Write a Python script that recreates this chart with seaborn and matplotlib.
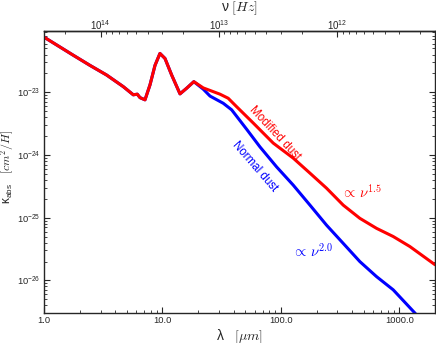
import numpy as np
import pandas as pd
import matplotlib
matplotlib.use("Agg")
import matplotlib.pyplot as plt
import matplotlib.ticker as mticker
import seaborn as sns

# wavelength [micron] and log10 kappa
lam_mod = [1.0, 1.77, 2.44, 3.38, 4.67, 5.67, 6.13, 6.46, 7.12, 7.85, 8.65, 9.52,
           10.5, 11.96, 14.06, 16.0, 18.4, 22.1, 30.6, 35.9, 42.3, 58.4, 86.1,
           127, 176, 243, 336, 464, 642, 887, 1227, 2000]
logk_mod = [-22.12, -22.41, -22.57, -22.725, -22.91, -23.04, -23.03, -23.085, -23.12,
            -22.88, -22.57, -22.38, -22.46, -22.725, -23.025, -22.935, -22.83, -22.93,
            -23.03, -23.095, -23.23, -23.49, -23.81, -24.05, -24.29, -24.53, -24.80,
            -25.01, -25.17, -25.30, -25.46, -25.75]

lam_norm = [1.0, 1.77, 2.44, 3.38, 4.67, 5.67, 6.13, 6.46, 7.12, 7.85, 8.65, 9.52,
            10.5, 11.96, 14.06, 16.0, 18.4, 22.1, 25.2, 32.6, 38.4, 51.4, 66.5, 92,
            127, 176, 243, 336, 464, 642, 887, 1352, 1500]
logk_norm = [-22.12, -22.41, -22.57, -22.725, -22.91, -23.04, -23.03, -23.085, -23.12,
             -22.88, -22.57, -22.38, -22.46, -22.725, -23.025, -22.935, -22.83, -22.95,
             -23.06, -23.175, -23.28, -23.59, -23.87, -24.19, -24.48, -24.80, -25.12,
             -25.41, -25.70, -25.94, -26.15, -26.52, -26.62]

c_micron = 2.998e14  # speed of light in micron/s

sns.set_style("ticks")
plt.rcParams["font.family"] = ["Liberation Sans", "DejaVu Sans"]
plt.rcParams["mathtext.fontset"] = "cm"
plt.rcParams["axes.linewidth"] = 1.0
plt.rcParams["xtick.direction"] = "in"
plt.rcParams["ytick.direction"] = "in"

df = pd.concat([
    pd.DataFrame({"lam": lam_mod, "kappa": 10.0 ** np.array(logk_mod), "dust": "modified"}),
    pd.DataFrame({"lam": lam_norm, "kappa": 10.0 ** np.array(logk_norm), "dust": "normal"}),
])

fig = plt.figure(figsize=(4.36, 3.43), dpi=100)
ax = fig.add_axes([0.101, 0.0883, 0.8967, 0.8213])
sns.lineplot(data=df, x="lam", y="kappa", hue="dust", palette={"modified": "#ff0000", "normal": "#0000ff"},
             hue_order=["normal", "modified"], linewidth=2.2, legend=False, ax=ax, sort=False)
ax.set_xscale("log")
ax.set_yscale("log")
ax.set_xlim(1.0, 2000)
ax.set_ylim(3.05e-27, 9.5e-23)

ax.xaxis.set_major_formatter(mticker.FuncFormatter(lambda v, p: "%.1f" % v))
ax.xaxis.set_minor_formatter(mticker.NullFormatter())
ax.tick_params(which="both", direction="in", labelsize=6.7, top=False, right=True, pad=2.5)
ax.tick_params(which="major", length=4, width=0.8)
ax.tick_params(which="minor", length=2, width=0.6)

ax.set_xlabel("λ   $[\\mu m]$", fontsize=10)
ax.xaxis.set_label_coords(0.5, -0.054)
ax.set_ylabel("κ$_{\\mathdefault{abs}}$   $[cm^2/H]$", fontsize=8.5)
ax.yaxis.set_label_coords(-0.072, 0.519)

sec = ax.secondary_xaxis("top", functions=(lambda x: c_micron / x, lambda x: c_micron / x))
sec.tick_params(which="both", direction="in", labelsize=7, pad=-0.8)
sec.tick_params(which="major", length=4, width=0.8)
sec.tick_params(which="minor", length=2, width=0.6)
sec.set_xlabel("ν $[Hz]$", fontsize=10, labelpad=5)

ax.text(89, 2.24e-24, "Modified dust", color="#ff0000", fontsize=8.3, rotation=-47,
        ha="center", va="center", rotation_mode="anchor")
ax.text(60.4, 6.5e-25, "Normal dust", color="#0000ff", fontsize=8.3, rotation=-49,
        ha="center", va="center", rotation_mode="anchor")
ax.text(483, 2.6e-25, r"$\propto\, \nu^{1.5}$", color="#ff0000", fontsize=10.5, ha="center", va="center")
ax.text(186, 2.95e-26, r"$\propto\, \nu^{2.0}$", color="#0000ff", fontsize=10.5, ha="center", va="center")

fig.savefig("out.png", dpi=100)
